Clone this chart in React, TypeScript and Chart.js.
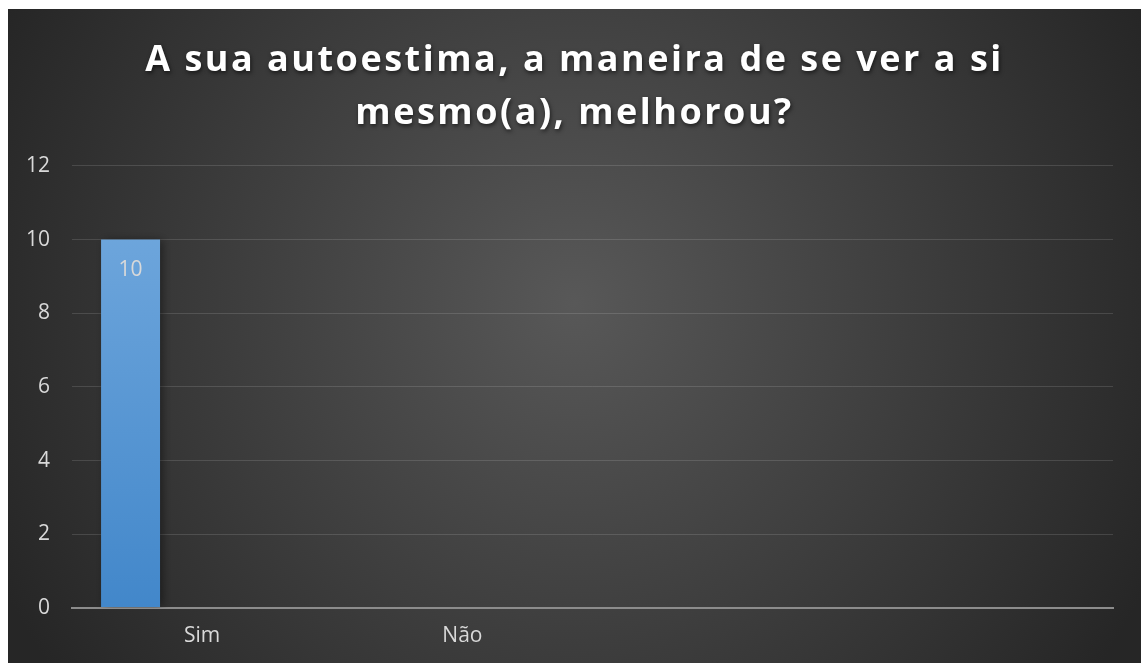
import React, { useEffect, useRef } from "react";
import { Chart, registerables } from "chart.js";

Chart.register(...registerables);

const titleLines = ["A sua autoestima, a maneira de se ver a si", "mesmo(a), melhorou?"];
const categories = ["Sim", "Não", "", ""];
const seriesA = [10, null, null, null];
const seriesB = [null, null, null, null];
const seriesC = [null, null, null, null];
const yMin = 0;
const yMax = 12;
const yStep = 2;

const FONT = "'Open Sans', 'Noto Sans', sans-serif";
const TEXT = "#d9d9d9";

const bgPlugin = {
  id: "bgGradient",
  beforeDraw(chart: any) {
    const { ctx, width, height } = chart;
    const cx = width * 0.5;
    const cy = height * 0.45;
    const r = Math.sqrt(cx * cx + cy * cy) * 1.0;
    const g = ctx.createRadialGradient(cx, cy, 0, cx, cy, r);
    g.addColorStop(0, "#585858");
    g.addColorStop(1, "#262626");
    ctx.save();
    ctx.fillStyle = g;
    ctx.fillRect(0, 0, width, height);
    ctx.restore();
    const tb = chart.titleBlock;
    if (tb && !tb.__spaced) {
      const orig = tb.draw.bind(tb);
      tb.draw = (...args: any[]) => {
        const c = chart.ctx;
        c.save();
        c.translate(14, 0);
        (c as any).letterSpacing = "2.5px";
        c.shadowColor = "rgba(0,0,0,0.6)";
        c.shadowBlur = 4;
        c.shadowOffsetX = 1;
        c.shadowOffsetY = 2;
        orig(...args);
        c.restore();
      };
      tb.__spaced = true;
    }
  },
};

const shadowPlugin = {
  id: "barShadow",
  beforeDatasetsDraw(chart: any) {
    const ctx = chart.ctx;
    ctx.save();
    ctx.shadowColor = "rgba(0,0,0,0.45)";
    ctx.shadowBlur = 9;
    ctx.shadowOffsetX = 3;
    ctx.shadowOffsetY = 0;
  },
  afterDatasetsDraw(chart: any) {
    chart.ctx.restore();
  },
};

const labelPlugin = {
  id: "dataLabels",
  afterDatasetsDraw(chart: any) {
    const ctx = chart.ctx;
    chart.data.datasets.forEach((ds: any, di: number) => {
      const meta = chart.getDatasetMeta(di);
      meta.data.forEach((el: any, i: number) => {
        const v = ds.data[i];
        if (v === null || v === undefined) return;
        ctx.save();
        ctx.fillStyle = TEXT;
        ctx.font = `21px ${FONT}`;
        ctx.textAlign = "center";
        ctx.textBaseline = "middle";
        ctx.fillText(String(v), el.x, el.y + 30);
        ctx.restore();
      });
    });
  },
};

export default function App() {
  const ref = useRef<HTMLCanvasElement | null>(null);

  useEffect(() => {
    if (!ref.current) return;
    const barFill = (c: any) => {
      const area = c.chart.chartArea;
      if (!area) return "#5b9bd5";
      const g = c.chart.ctx.createLinearGradient(0, area.top, 0, area.bottom);
      g.addColorStop(0, "#75abdf");
      g.addColorStop(1, "#4287ca");
      return g;
    };
    const common = {
      backgroundColor: barFill,
      borderWidth: 0,
      categoryPercentage: 0.825,
      barPercentage: 0.824,
    };
    const chart = new Chart(ref.current, {
      type: "bar",
      data: {
        labels: categories,
        datasets: [
          { label: "Série 1", data: seriesA, ...common },
          { label: "Série 2", data: seriesB, ...common },
          { label: "Série 3", data: seriesC, ...common },
        ],
      },
      options: {
        animation: false,
        responsive: true,
        maintainAspectRatio: false,
        layout: { padding: { left: 0, right: 28, top: 0, bottom: 14 } },
        plugins: {
          legend: { display: false },
          tooltip: { enabled: false },
          title: {
            display: true,
            text: titleLines,
            color: "#ffffff",
            font: { family: FONT, size: 36, weight: "bold", lineHeight: 1.47 },
            padding: { top: 25, bottom: 26 },
          },
        },
        scales: {
          x: {
            grid: { display: false, drawTicks: false },
            border: { display: true, color: "#8c8c8c", width: 2 },
            ticks: { color: TEXT, font: { family: FONT, size: 21 }, padding: 15, maxRotation: 0, autoSkip: false },
            afterFit: (s: any) => {
              s.height = 41;
            },
          },
          y: {
            min: yMin,
            max: yMax,
            ticks: { stepSize: yStep, color: TEXT, font: { family: FONT, size: 21 }, padding: 22 },
            grid: {
              drawTicks: false,
              color: (c: any) => (c.tick && c.tick.value === 0 ? "#8c8c8c" : "rgba(255,255,255,0.13)"),
              lineWidth: (c: any) => (c.tick && c.tick.value === 0 ? 2 : 1),
            },
            border: { display: false },
            afterFit: (s: any) => {
              s.width = 64;
            },
          },
        },
      },
      plugins: [bgPlugin, shadowPlugin, labelPlugin],
    });
    chart.draw();
    return () => chart.destroy();
  }, []);

  return (
    <div style={{ position: "fixed", left: 8, top: 9, width: 1133, height: 654 }}>
      <canvas ref={ref} />
    </div>
  );
}
